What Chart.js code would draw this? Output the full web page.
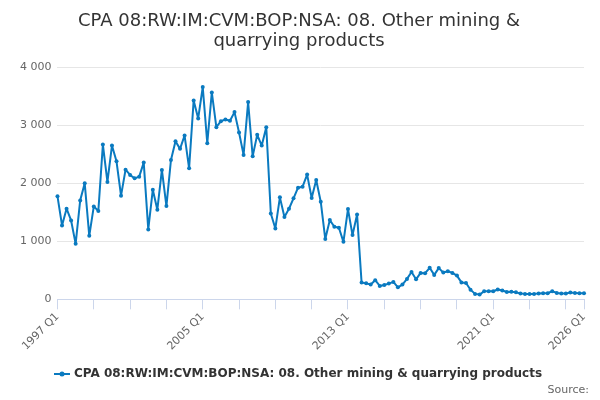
<!DOCTYPE html>
<html>
<head>
<meta charset="utf-8">
<script src="https://cdn.jsdelivr.net/npm/chart.js@4"></script>
<style>
  html, body { margin: 0; padding: 0; background: #fff; }
  #wrap { width: 600px; height: 400px; }
</style>
</head>
<body>
<div id="wrap"><canvas id="chart" width="600" height="400"></canvas></div>
<script>
// quarters 1997 Q1 .. 2026 Q1
const startYear = 1997;
const values = [
  1775, 1274, 1562, 1360, 957, 1706, 2000, 1095, 1602, 1522,
  2669, 2023, 2651, 2380, 1787, 2236, 2144, 2086, 2115, 2357,
  1205, 1890, 1545, 2231, 1608, 2403, 2726, 2594, 2824, 2259,
  3429, 3118, 3660, 2692, 3568, 2968, 3072, 3101, 3078, 3228,
  2876, 2490, 3401, 2467, 2836, 2651, 2968, 1481, 1222, 1758,
  1418, 1562, 1741, 1925, 1942, 2150, 1746, 2058, 1683, 1040,
  1366, 1251, 1233, 991, 1556, 1107, 1464, 288, 277, 254,
  329, 231, 248, 271, 300, 207, 254, 352, 470, 345,
  456, 450, 544, 421, 538, 462, 485, 456, 409, 292,
  281, 164, 94, 82, 140, 140, 140, 170, 152, 126,
  129, 123, 99, 94, 94, 94, 99, 105, 105, 140,
  111, 99, 99, 117, 111, 105, 105
];
const labels = values.map((_, i) => (startYear + Math.floor(i / 4)) + ' Q' + (i % 4 + 1));
const seriesName = 'CPA 08:RW:IM:CVM:BOP:NSA: 08. Other mining & quarrying products';
const titleLines = ['CPA 08:RW:IM:CVM:BOP:NSA: 08. Other mining &', 'quarrying products'];
const sourceText = 'Source:';
const yTicks = [0, 1000, 2000, 3000, 4000];

const blue = '#0a7ac0';
const last = labels.length - 1;
const font = 'DejaVu Sans';

// legend symbol: short line with a dot
const sym = document.createElement('canvas');
sym.width = 16; sym.height = 8;
const sc = sym.getContext('2d');
sc.strokeStyle = blue; sc.lineWidth = 2;
sc.beginPath(); sc.moveTo(0, 4); sc.lineTo(16, 4); sc.stroke();
sc.fillStyle = blue;
sc.beginPath(); sc.arc(8, 4, 2.5, 0, Math.PI * 2); sc.fill();

const fmt = v => String(v).replace(/\B(?=(\d{3})+(?!\d))/g, ' ');

// small credit line in the bottom-right corner
const sourceNote = {
  id: 'sourceNote',
  afterDraw(chart) {
    const c = chart.ctx;
    c.save();
    c.font = '11px "DejaVu Sans"';
    c.fillStyle = '#666666';
    c.textAlign = 'right';
    c.textBaseline = 'middle';
    c.fillText(sourceText, chart.width - 11, 390);
    c.restore();
  },
};

new Chart(document.getElementById('chart'), {
  type: 'line',
  data: {
    labels,
    datasets: [{
      label: seriesName,
      data: values,
      borderColor: blue,
      backgroundColor: blue,
      borderWidth: 2,
      borderJoinStyle: 'round',
      pointRadius: 2,
      pointBorderWidth: 0,
      pointHoverRadius: 3,
      tension: 0,
      pointStyle: 'circle',
    }],
  },
  plugins: [sourceNote],
  options: {
    responsive: false,
    animation: false,
    layout: { padding: { left: 14, right: 16, top: 0, bottom: 10 } },
    plugins: {
      title: {
        display: true,
        text: titleLines,
        color: '#333333',
        font: { family: font, size: 18, weight: 'normal', lineHeight: 1.12 },
        padding: { top: 11, bottom: 16 },
      },
      legend: {
        position: 'bottom',
        labels: {
          usePointStyle: true,
          pointStyle: sym,
          color: '#333333',
          font: { family: font, size: 12, weight: 'bold' },
          padding: 14,
        },
      },
      tooltip: { enabled: false },
    },
    scales: {
      x: {
        grid: {
          drawOnChartArea: false,
          drawTicks: true,
          tickLength: 10,
          color: ctx => (ctx.index % 8 === 0 || ctx.index === last) ? '#ccd6eb' : 'rgba(0,0,0,0)',
        },
        border: { color: '#ccd6eb', width: 1 },
        ticks: {
          autoSkip: false,
          maxRotation: 45,
          minRotation: 45,
          color: '#666666',
          font: { family: font, size: 11 },
          padding: 1,
          callback: (v, i) => (i % 32 === 0 || i === last) ? labels[i] : '',
        },
      },
      y: {
        min: 0,
        max: 4000,
        afterBuildTicks: axis => { axis.ticks = yTicks.map(v => ({ value: v })); },
        grid: { color: '#e6e6e6', drawTicks: false },
        border: { display: false },
        ticks: {
          color: '#666666',
          font: { family: font, size: 11 },
          padding: 6,
          callback: v => fmt(v),
        },
      },
    },
  },
});
</script>
</body>
</html>
